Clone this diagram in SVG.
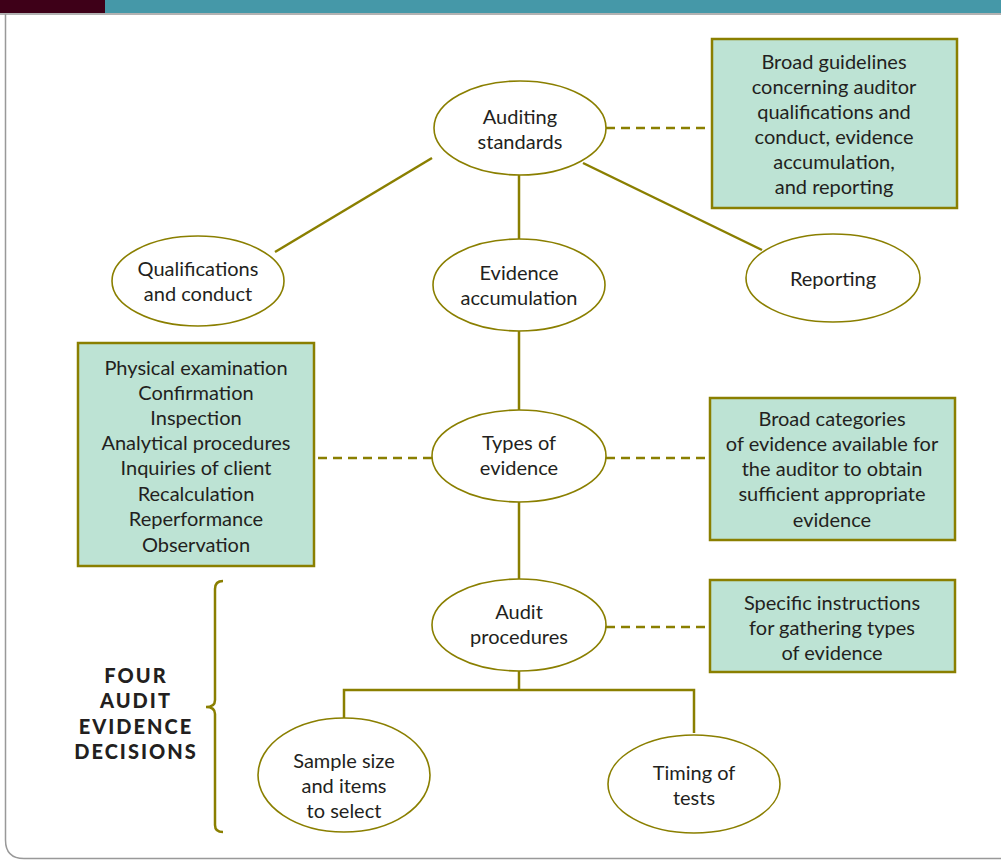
<svg xmlns="http://www.w3.org/2000/svg" width="1001" height="864" viewBox="0 0 1001 864">
<style>
.n{fill:#fff;stroke:#8a7f00;stroke-width:1.6}
.b{fill:#bde3d4;stroke:#8a7f00;stroke-width:2.5}
.c{stroke:#8a7f00;stroke-width:2.5;fill:none}
.d{stroke:#8a7f00;stroke-width:2.5;fill:none;stroke-dasharray:9 6}
text{font-family:Lato,"Liberation Sans",sans-serif;font-size:20px;fill:#231f20;text-anchor:middle}
.h{font-weight:900;font-size:20px;letter-spacing:2px}
</style>
<rect x="0" y="0" width="1001" height="864" fill="#fff"/>
<rect x="0" y="0" width="105" height="13" fill="#3e0018"/>
<rect x="105" y="0" width="896" height="13" fill="#4598a8"/>
<path d="M0 14H1001" stroke="#999" stroke-width="1.5"/>
<path d="M5.5 14V840Q5.5 858.5 24 858.5H1001" fill="none" stroke="#999" stroke-width="1.5"/>
<g id="connectors">
<path class="c" d="M432 158L275 252"/>
<path class="c" d="M519 175V240"/>
<path class="c" d="M583 163L762 250"/>
<path class="c" d="M519 330V410"/>
<path class="c" d="M519 502V579"/>
<path class="c" d="M519 671V690M344 718V690H694V733"/>
<path class="d" d="M606 128H712"/>
<path class="d" d="M432 458H314"/>
<path class="d" d="M606 458H710"/>
<path class="d" d="M606 627H710"/>
</g>
<g id="auditing-standards"><ellipse class="n" cx="520" cy="128" rx="86" ry="47"/><text x="520" y="124">Auditing</text><text x="520" y="149">standards</text></g>
<g id="qualifications"><ellipse class="n" cx="198" cy="281" rx="86" ry="45"/><text x="198" y="276">Qualifications</text><text x="198" y="301">and conduct</text></g>
<g id="evidence-accumulation"><ellipse class="n" cx="519" cy="285" rx="86" ry="46"/><text x="519" y="280">Evidence</text><text x="519" y="305">accumulation</text></g>
<g id="reporting"><ellipse class="n" cx="833" cy="278" rx="87" ry="44"/><text x="833" y="286">Reporting</text></g>
<g id="types-of-evidence"><ellipse class="n" cx="519" cy="456" rx="87" ry="46"/><text x="519" y="450">Types of</text><text x="519" y="475">evidence</text></g>
<g id="audit-procedures"><ellipse class="n" cx="519" cy="625" rx="87" ry="46"/><text x="519" y="619">Audit</text><text x="519" y="644">procedures</text></g>
<g id="sample-size"><ellipse class="n" cx="344" cy="775" rx="86" ry="57"/><text x="344" y="768">Sample size</text><text x="344" y="793">and items</text><text x="344" y="818">to select</text></g>
<g id="timing"><ellipse class="n" cx="694" cy="784" rx="86" ry="49"/><text x="694" y="780">Timing of</text><text x="694" y="805">tests</text></g>
<g id="box-guidelines"><rect class="b" x="712" y="39" width="245" height="169"/>
<text x="834" y="69">Broad guidelines</text><text x="834" y="94">concerning auditor</text><text x="834" y="119">qualifications and</text><text x="834" y="144">conduct, evidence</text><text x="834" y="169">accumulation,</text><text x="834" y="194">and reporting</text></g>
<g id="box-types"><rect class="b" x="78" y="343" width="236" height="223"/>
<text x="196" y="375">Physical examination</text><text x="196" y="400">Confirmation</text><text x="196" y="425">Inspection</text><text x="196" y="450">Analytical procedures</text><text x="196" y="475">Inquiries of client</text><text x="196" y="501">Recalculation</text><text x="196" y="526">Reperformance</text><text x="196" y="552">Observation</text></g>
<g id="box-categories"><rect class="b" x="710" y="398" width="245" height="142"/>
<text x="832" y="426">Broad categories</text><text x="832" y="451">of evidence available for</text><text x="832" y="476">the auditor to obtain</text><text x="832" y="501">sufficient appropriate</text><text x="832" y="527">evidence</text></g>
<g id="box-instructions"><rect class="b" x="710" y="580" width="245" height="92"/>
<text x="832" y="610">Specific instructions</text><text x="832" y="635">for gathering types</text><text x="832" y="660">of evidence</text></g>
<g id="decisions">
<path class="c" d="M223 581Q215 581 215 589V700Q215 707 206 707Q215 707 215 714V825Q215 832 223 832"/>
<text class="h" x="136" y="683">FOUR</text><text class="h" x="136" y="708">AUDIT</text><text class="h" x="136" y="734">EVIDENCE</text><text class="h" x="136" y="759">DECISIONS</text>
</g>
</svg>
